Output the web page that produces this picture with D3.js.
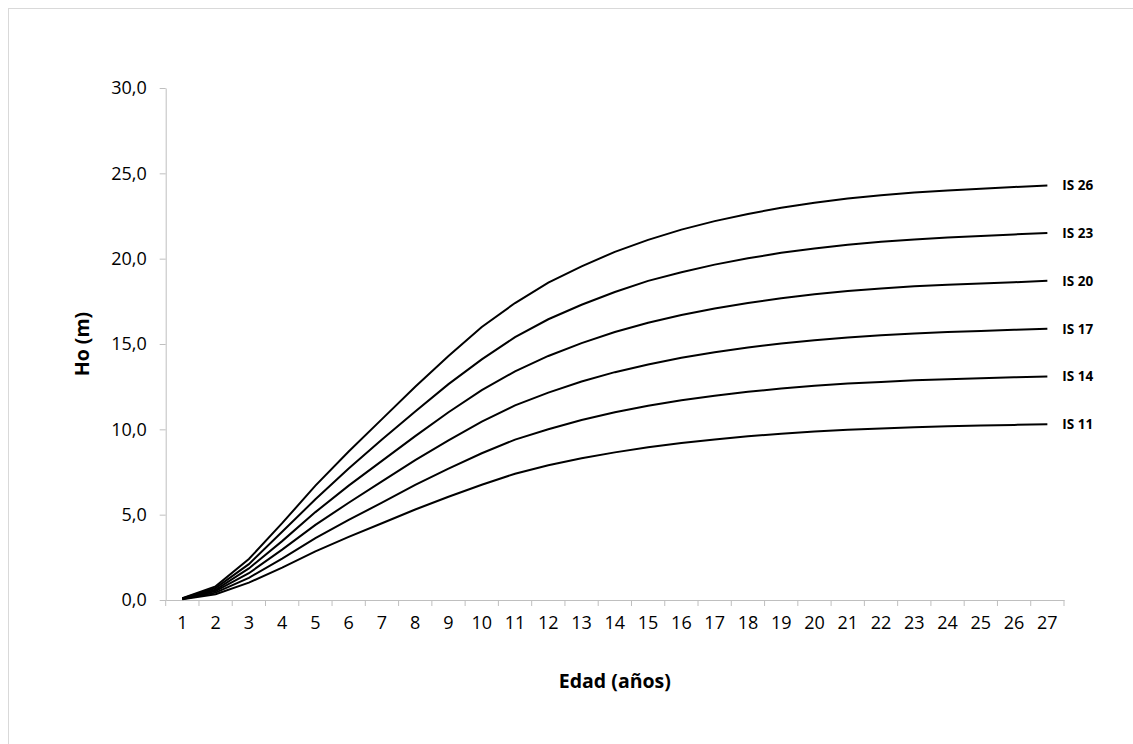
<!DOCTYPE html>
<html>
<head>
<meta charset="utf-8">
<script src="https://cdn.jsdelivr.net/npm/d3@7"></script>
<style>
  body { margin: 0; background: #fff; }
  text { font-family: "Open Sans", sans-serif; fill: #000; }
  .axis path, .axis line { stroke: #bfbfbf; }
  .tick-label { font-size: 18px; }
  .titulo { font-size: 19.5px; font-weight: bold; }
  .is-label { font-size: 13.5px; font-weight: bold; }
  .curva { fill: none; stroke: #000; stroke-width: 2; }
</style>
</head>
<body>
<svg id="chart" width="1133" height="744"></svg>
<script>
// Edad (años)
var edades = d3.range(1, 28);

// Ho (m) por índice de sitio
var is26 = [0.1, 0.8, 2.4, 4.5, 6.7, 8.7, 10.6, 12.5, 14.3, 16.0, 17.4, 18.6, 19.55, 20.4, 21.1, 21.7, 22.2, 22.62, 22.98, 23.28, 23.52, 23.72, 23.88, 24.0, 24.1, 24.2, 24.28];
var is23 = [0.09, 0.7, 2.1, 4.0, 5.9, 7.7, 9.4, 11.05, 12.65, 14.1, 15.4, 16.45, 17.3, 18.05, 18.7, 19.2, 19.65, 20.02, 20.34, 20.6, 20.82, 20.99, 21.13, 21.24, 21.33, 21.42, 21.5];
var is20 = [0.08, 0.6, 1.85, 3.45, 5.15, 6.7, 8.15, 9.6, 11.0, 12.3, 13.4, 14.3, 15.05, 15.7, 16.25, 16.7, 17.08, 17.4, 17.68, 17.91, 18.1, 18.25, 18.38, 18.47, 18.55, 18.62, 18.7];
var is17 = [0.07, 0.52, 1.57, 2.95, 4.4, 5.7, 6.95, 8.2, 9.35, 10.45, 11.4, 12.15, 12.8, 13.35, 13.8, 14.2, 14.52, 14.79, 15.03, 15.22, 15.38, 15.51, 15.62, 15.7, 15.76, 15.83, 15.9];
var is14 = [0.06, 0.43, 1.3, 2.42, 3.62, 4.7, 5.7, 6.75, 7.7, 8.6, 9.4, 10.0, 10.55, 11.0, 11.38, 11.7, 11.97, 12.2, 12.39, 12.55, 12.68, 12.78, 12.87, 12.94, 12.99, 13.05, 13.1];
var is11 = [0.05, 0.34, 1.02, 1.9, 2.85, 3.7, 4.5, 5.3, 6.05, 6.75, 7.4, 7.9, 8.3, 8.65, 8.95, 9.2, 9.41, 9.59, 9.74, 9.87, 9.97, 10.05, 10.12, 10.18, 10.22, 10.26, 10.3];

var nombres = ["IS 26", "IS 23", "IS 20", "IS 17", "IS 14", "IS 11"];
var series = [is26, is23, is20, is17, is14, is11];

var yTicks = [0, 5, 10, 15, 20, 25, 30];

var svg = d3.select("#chart"),
    margin = {top: 88, right: 69, bottom: 144, left: 165.7},
    width = +svg.attr("width") - margin.left - margin.right,
    height = +svg.attr("height") - margin.top - margin.bottom;

var coma = d3.formatLocale({decimal: ",", thousands: ".", grouping: [3], currency: ["", ""]}).format(".1f");

// marco del gráfico
svg.append("rect")
  .attr("x", 8.5)
  .attr("y", 8.5)
  .attr("width", 1140)
  .attr("height", 760)
  .attr("fill", "none")
  .attr("stroke", "#d9d9d9");

var g = svg.append("g")
  .attr("transform", "translate(" + margin.left + "," + margin.top + ")");

var x = d3.scaleBand()
  .domain(edades)
  .range([0, width]);

var y = d3.scaleLinear()
  .domain([0, 30])
  .range([height, 0]);

// eje Y
var yAxis = g.append("g")
  .attr("class", "axis")
  .call(d3.axisLeft(y).tickValues(yTicks).tickSize(6).tickSizeOuter(0).tickPadding(13).tickFormat(coma));
yAxis.selectAll("text").attr("class", "tick-label");

// eje X (marcas entre categorías)
var xAxis = g.append("g")
  .attr("class", "axis")
  .attr("transform", "translate(0," + height + ")")
  .call(d3.axisBottom(x).tickSize(0).tickSizeOuter(0).tickPadding(16));
xAxis.selectAll("text").attr("class", "tick-label");
xAxis.selectAll(".marca")
  .data(edades.map(function(d) { return x(d); }).concat([width]))
  .enter().append("line")
    .attr("class", "marca")
    .attr("x1", function(d) { return d; })
    .attr("x2", function(d) { return d; })
    .attr("y1", 0)
    .attr("y2", 6);

var line = d3.line()
  .x(function(d, i) { return x(edades[i]) + x.bandwidth() / 2; })
  .y(function(d) { return y(d); });

g.selectAll(".curva")
  .data(series)
  .enter().append("path")
    .attr("class", "curva")
    .attr("d", line);

g.selectAll(".is-label")
  .data(series)
  .enter().append("text")
    .attr("class", "is-label")
    .attr("x", x(27) + x.bandwidth() / 2 + 15)
    .attr("y", function(d) { return y(d[d.length - 1]); })
    .attr("dy", "0.36em")
    .text(function(d, i) { return nombres[i]; });

// títulos de ejes
svg.append("text")
  .attr("class", "titulo")
  .attr("x", margin.left + width / 2)
  .attr("y", 688)
  .attr("text-anchor", "middle")
  .text("Edad (años)");

svg.append("text")
  .attr("class", "titulo")
  .attr("transform", "translate(89," + (margin.top + height / 2) + ") rotate(-90)")
  .attr("text-anchor", "middle")
  .text("Ho (m)");
</script>
</body>
</html>
